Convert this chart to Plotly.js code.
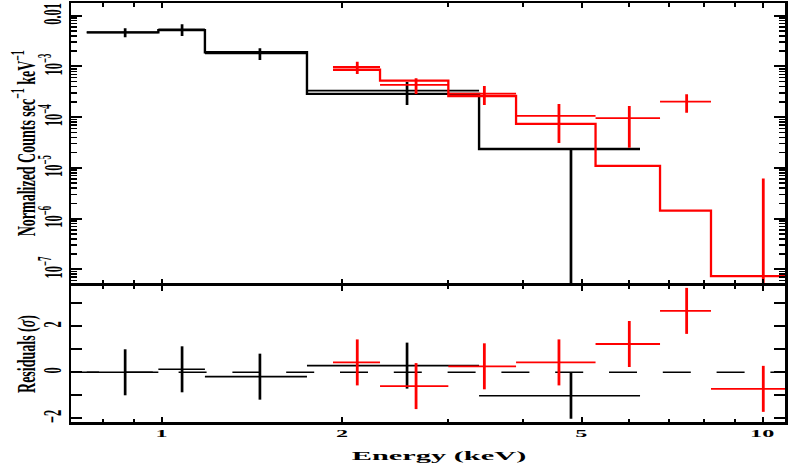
<!DOCTYPE html>
<html><head><meta charset="utf-8">
<script src="https://cdn.plot.ly/plotly-3.0.1.min.js"></script>
<style>html,body{margin:0;padding:0;background:#fff;} #chart{width:789px;height:463px;}</style>
</head><body><div id="chart"></div>
<script>
// ---------- Spectrum 1 (black) ----------
const s1_elo   = [0.751, 0.988, 1.181, 1.746, 3.376];
const s1_ehi   = [0.988, 1.181, 1.746, 3.376, 6.255];
const s1_e     = [0.870, 1.082, 1.458, 2.562, 4.801];
const s1_rate  = [4.70e-3, 5.37e-3, 1.81e-3, 3.33e-4, 0];
const s1_err   = [0.945e-3, 1.39e-3, 0.47e-3, 1.6e-4, 2.35e-5];
const s1_model = [4.70e-3, 5.19e-3, 1.90e-3, 2.87e-4, 2.35e-5];
const s1_resid = [0.0, 0.13, -0.19, 0.29, -1.02];
const s1_rerr  = [1, 1, 1, 1, 1];

// ---------- Spectrum 2 (red) ----------
const s2_elo   = [1.929, 2.310, 3.001, 3.890, 5.275, 6.753, 8.209];
const s2_ehi   = [2.310, 3.001, 3.890, 5.275, 6.753, 8.209, 12.26];
const s2_e     = [2.117, 2.652, 3.445, 4.585, 6.003, 7.478, 10.03];
const s2_rate  = [9.74e-4, 4.34e-4, 2.92e-4, 1.06e-4, 9.55e-5, 2.02e-4, -1.58e-5];
const s2_err   = [2.66e-4, 1.48e-4, 1.19e-4, 7.5e-5, 7.06e-5, 8.0e-5, 2.2e-5];
const s2_model = [8.6e-4, 5.23e-4, 2.61e-4, 7.4e-5, 1.09e-5, 1.43e-6, 7.34e-8];
const s2_resid = [0.43, -0.60, 0.26, 0.43, 1.23, 2.67, -0.72];
const s2_rerr  = [1, 1, 1, 1, 1, 1, 1];

// ---------- Axis ticks ----------
const xTickVals = [1, 2, 5, 10];
const xTickText = ['1', '2', '5', '10'];
const xMinorVals = [0.8, 0.9, 3, 4, 6, 7, 8, 9];
const yTickVals = [1e-7, 1e-6, 1e-5, 1e-4, 1e-3, 1e-2];
const yTickText = ['10<sup>\u22127</sup>', '10<sup>\u22126</sup>', '10<sup>\u22125</sup>', '10<sup>\u22124</sup>', '10<sup>\u22123</sup>', '0.01'];
const rTickVals = [-2, 0, 2];
const rTickText = ['\u22122', '0', '2'];
const rMinorVals = [-1, 1, 3];

const yMinorVals = [];
for (let d = -8; d <= -2; d++) for (let m = 2; m <= 9; m++) yMinorVals.push(m * Math.pow(10, d));

const X_RANGE = [-0.15058, 1.03744];
const LOG_FLOOR = 1e-12;

const BLACK = '#000000', RED = '#ff0000';
const serif = 'Liberation Serif, Times New Roman, serif';

function crosses(elo, ehi, e, v, err, color, xa, ya, hw, vw, logY) {
  const hx = [], hy = [], vx = [], vy = [];
  for (let i = 0; i < e.length; i++) {
    if (!logY || v[i] > 0) { hx.push(elo[i], ehi[i], null); hy.push(v[i], v[i], null); }
    let lo = v[i] - err[i], hi = v[i] + err[i];
    if (logY) { lo = Math.max(lo, LOG_FLOOR); }
    vx.push(e[i], e[i], null); vy.push(lo, hi, null);
  }
  return [
    {type:'scatter', mode:'lines', x:hx, y:hy, xaxis:xa, yaxis:ya, line:{color:color, width:hw}, hoverinfo:'skip'},
    {type:'scatter', mode:'lines', x:vx, y:vy, xaxis:xa, yaxis:ya, line:{color:color, width:vw}, hoverinfo:'skip'}
  ];
}
function steps(elo, ehi, m, color, w) {
  const x = [], y = [];
  for (let i = 0; i < m.length; i++) { x.push(elo[i], ehi[i]); y.push(m[i], m[i]); }
  return {type:'scatter', mode:'lines', x:x, y:y, xaxis:'x', yaxis:'y', line:{color:color, width:w}, hoverinfo:'skip'};
}

const zeroLine = {type:'scatter', mode:'lines',
  x:[Math.pow(10, X_RANGE[0]), Math.pow(10, X_RANGE[1])], y:[0, 0], xaxis:'x2', yaxis:'y2',
  line:{color:BLACK, width:1.5, dash:'28px,25.8px'}, hoverinfo:'skip'};

const traces = [].concat(
  [zeroLine],
  crosses(s1_elo, s1_ehi, s1_e, s1_rate, s1_err, BLACK, 'x', 'y', 1.6, 2.7, true),
  [steps(s1_elo, s1_ehi, s1_model, BLACK, 2.4)],
  crosses(s2_elo, s2_ehi, s2_e, s2_rate, s2_err, RED, 'x', 'y', 1.8, 2.8, true),
  [steps(s2_elo, s2_ehi, s2_model, RED, 2.3)],
  crosses(s1_elo, s1_ehi, s1_e, s1_resid, s1_rerr, BLACK, 'x2', 'y2', 1.6, 2.7, false),
  crosses(s2_elo, s2_ehi, s2_e, s2_resid, s2_rerr, RED, 'x2', 'y2', 1.8, 2.8, false)
);

const common = {showline:true, linecolor:BLACK, linewidth:2.5, mirror:'ticks', ticks:'inside',
  tickcolor:BLACK, tickwidth:2, showgrid:false, zeroline:false, fixedrange:true};

const xBase = Object.assign({}, common, {type:'log', range:X_RANGE, domain:[0,1], tickmode:'array',
  tickvals:xTickVals, ticktext:xTickText, ticklen:5,
  minor:{tickmode:'array', tickvals:xMinorVals, ticklen:3.5, tickwidth:2, tickcolor:BLACK, ticks:'inside', showgrid:false}});

const layout = {
  width:789, height:463,
  margin:{l:71, r:4, t:3, b:41},
  paper_bgcolor:'#ffffff', plot_bgcolor:'#ffffff',
  showlegend:false,
  xaxis: Object.assign({}, xBase, {anchor:'y', showticklabels:false}),
  xaxis2: Object.assign({}, xBase, {anchor:'y2', matches:'x', showticklabels:true,
    tickfont:{family:serif, size:11, weight:'bold', color:BLACK}, ticklabelstandoff:4,
    title:{text:'Energy (keV)', font:{family:serif, size:12.5, weight:'bold', color:BLACK}, standoff:10}}),
  yaxis: Object.assign({}, common, {type:'log', range:[-7.2800, -1.7496], domain:[0.3305, 1], anchor:'x',
    tickmode:'array', tickvals:yTickVals, ticktext:yTickText, ticklen:11, tickangle:-90,
    tickfont:{family:serif, size:12.5, weight:'bold', color:BLACK}, ticklabelstandoff:10,
    minor:{tickmode:'array', tickvals:yMinorVals, ticklen:6, tickwidth:1.5, tickcolor:BLACK, ticks:'inside', showgrid:false},
    title:{text:'Normalized Counts sec<sup>\u22121</sup> keV<sup>\u22121</sup>', font:{family:serif, size:14, weight:'bold', color:BLACK}, standoff:8}}),
  yaxis2: Object.assign({}, common, {range:[-2.161, 3.752], domain:[0, 0.3246], anchor:'x2',
    tickmode:'array', tickvals:rTickVals, ticktext:rTickText, ticklen:11, tickangle:-90,
    tickfont:{family:serif, size:12.5, weight:'bold', color:BLACK}, ticklabelstandoff:10,
    minor:{tickmode:'array', tickvals:rMinorVals, ticklen:11, tickwidth:2, tickcolor:BLACK, ticks:'inside', showgrid:false},
    title:{text:'Residuals (<i>\u03c3</i>)', font:{family:serif, size:14, weight:'bold', color:BLACK}, standoff:8}})
};

function stretchText(selector, sx, dx, dy) {
  document.querySelectorAll(selector).forEach(function (el) {
    const old = el.getAttribute('transform') || '';
    const bb = el.getBBox();
    let cx = bb.x + bb.width / 2, cy = bb.y + bb.height / 2;
    const tl = el.transform.baseVal;
    if (tl.numberOfItems > 0) {
      const m = tl.consolidate().matrix;
      const px = m.a * cx + m.c * cy + m.e, py = m.b * cx + m.d * cy + m.f;
      cx = px; cy = py;
    }
    el.setAttribute('transform', 'translate(' + (cx + (dx || 0)) + ',' + (cy + (dy || 0)) + ') scale(' + sx + ',1) translate(' + (-cx) + ',' + (-cy) + ') ' + old);
  });
}

Plotly.newPlot('chart', traces, layout, {staticPlot:true, displayModeBar:false}).then(function () {
  stretchText('g.x2tick text', 2.2, 0, -5);
  stretchText('text.x2title', 2.43, 11, 0);
  stretchText('g.ytick text', 2.05, 3, 0);
  stretchText('g.y2tick text', 2.05, 3, 0);
  stretchText('text.ytitle', 1.85, 1, 0);
  stretchText('text.y2title', 1.85, 1, 0);
});
</script>
</body></html>
